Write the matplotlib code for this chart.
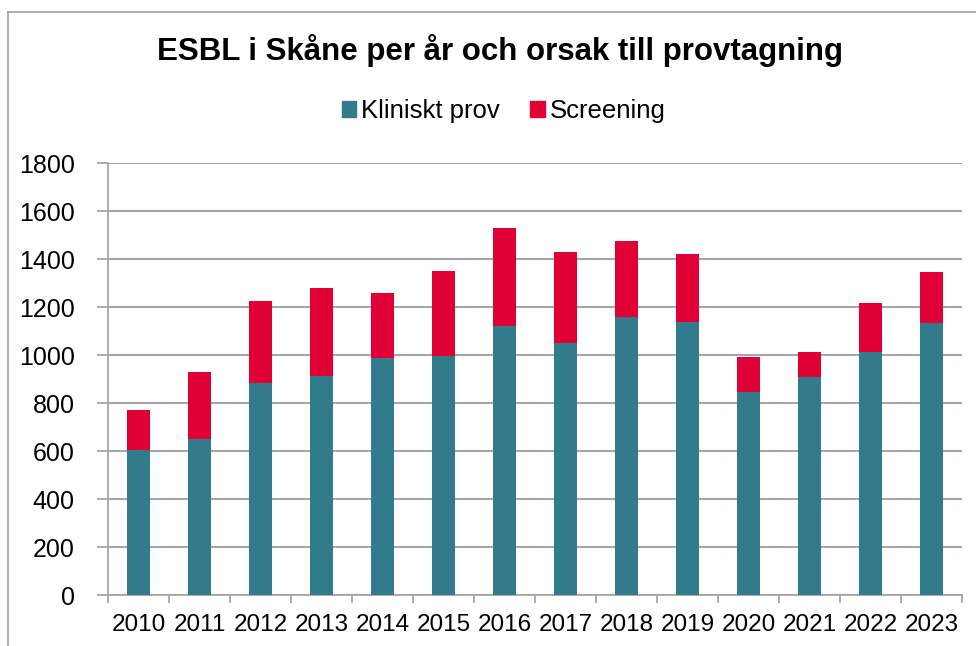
import matplotlib
matplotlib.use("Agg")
import numpy as np
from matplotlib import pyplot as plt
from matplotlib.lines import Line2D
from matplotlib.patches import Patch

years = ['2010', '2011', '2012', '2013', '2014', '2015', '2016',
         '2017', '2018', '2019', '2020', '2021', '2022', '2023']
# bar totals, split into the two causes
kliniskt = [603, 652, 882, 914, 989, 998, 1120, 1052, 1158, 1140, 845, 907, 1015, 1133]
totalt = [773, 928, 1228, 1282, 1261, 1353, 1529, 1431, 1478, 1422, 994, 1012, 1219, 1347]
screening = [t - k for t, k in zip(totalt, kliniskt)]

BLUE = '#327B8D'
RED = '#E10036'
GRID = '#A6A6A6'

plt.rcParams['font.family'] = ['Liberation Sans', 'DejaVu Sans']

fig = plt.figure(figsize=(9.76, 6.46), dpi=100)
ax = fig.add_axes([0.1107, 0.0789, 0.875, 0.6683])

x = np.arange(len(years))
ax.bar(x, kliniskt, width=0.39, color=BLUE, zorder=3)
ax.bar(x, screening, width=0.39, bottom=kliniskt, color=RED, zorder=3)

ax.set_ylim(0, 1800)
ax.set_yticks(range(0, 1801, 200))
ax.set_xlim(-0.5, len(years) - 0.5)
ax.set_xticks(x)
ax.set_xticklabels(years)
# category tick marks sit between the bars
ax.set_xticks(np.arange(-0.5, len(years)), minor=True)
ax.tick_params(axis='x', which='major', length=0, pad=14, labelsize=17.5)
ax.tick_params(axis='x', which='minor', length=6, color=GRID, width=1.3)
ax.tick_params(axis='y', length=8, color=GRID, width=1.3, pad=16, labelsize=18)

ax.grid(axis='y', color=GRID, linewidth=1.5, zorder=0)
for s in ['top', 'right']:
    ax.spines[s].set_visible(False)
for s in ['left', 'bottom']:
    ax.spines[s].set_color(GRID)
    ax.spines[s].set_linewidth(1.3)

fig.text(0.512, 0.922, 'ESBL i Skåne per år och orsak till provtagning',
         ha='center', va='center', fontsize=22.5, fontweight='bold')

handles = [Patch(color=BLUE, label='Kliniskt prov'), Patch(color=RED, label='Screening')]
fig.legend(handles=handles, loc='center', bbox_to_anchor=(0.516, 0.828), ncol=2,
           frameon=False, fontsize=18.5, handlelength=0.55, handleheight=0.55,
           handletextpad=0.2, columnspacing=1.2)

# chart frame, only top and left edges are visible in the crop
fig.add_artist(Line2D([8 / 976, 8 / 976], [0, 1 - 12 / 646], transform=fig.transFigure,
                      color='#A0A0A0', linewidth=1.2))
fig.add_artist(Line2D([8 / 976, 1], [1 - 12 / 646, 1 - 12 / 646], transform=fig.transFigure,
                      color='#A0A0A0', linewidth=1.2))

plt.savefig('out.png', dpi=100)
